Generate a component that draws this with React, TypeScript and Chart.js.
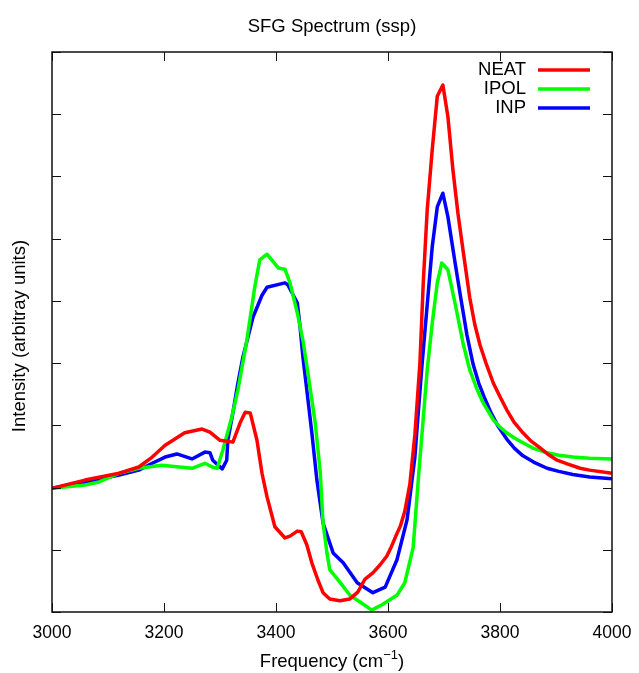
import React, { useEffect, useRef } from "react";
import { Chart, registerables } from "chart.js";

Chart.register(...registerables);

const chartTitle = "SFG Spectrum (ssp)";
const xAxisTitle = "Frequency (cm";
const xAxisSup = "\u22121";
const yAxisTitle = "Intensity (arbitray units)";
const xTicks = [3000, 3200, 3400, 3600, 3800, 4000];
const yTicks = [0, 1, 2, 3, 4, 5, 6, 7, 8, 9];
const seriesNames = ["NEAT", "IPOL", "INP"];
const seriesColors = ["#ff0000", "#00ff00", "#0000ff"];

const neatFreq = [3000, 3059, 3120, 3155, 3179, 3202, 3237, 3268, 3282, 3300, 3323, 3336, 3345, 3354, 3366, 3375, 3384, 3398, 3416, 3425, 3438, 3445, 3455, 3464, 3475, 3484, 3496, 3514, 3532, 3546, 3559, 3573, 3586, 3598, 3606, 3614, 3622, 3630, 3639, 3648, 3657, 3663, 3670, 3679, 3688, 3698, 3707, 3716, 3725, 3735, 3746, 3755, 3764, 3775, 3788, 3800, 3812, 3825, 3841, 3855, 3871, 3885, 3902, 3920, 3943, 3960, 4000];
const neatInt = [1.99, 2.12, 2.23, 2.33, 2.49, 2.68, 2.88, 2.94, 2.89, 2.76, 2.73, 3.04, 3.21, 3.2, 2.76, 2.23, 1.85, 1.37, 1.19, 1.22, 1.3, 1.29, 1.08, 0.79, 0.51, 0.31, 0.21, 0.18, 0.21, 0.32, 0.53, 0.63, 0.76, 0.9, 1.05, 1.22, 1.38, 1.62, 2.05, 2.85, 4.0, 5.3, 6.46, 7.43, 8.29, 8.47, 7.96, 7.1, 6.4, 5.75, 5.05, 4.62, 4.3, 4.0, 3.68, 3.46, 3.25, 3.05, 2.88, 2.75, 2.64, 2.54, 2.44, 2.38, 2.31, 2.28, 2.23];

const ipolFreq = [3000, 3059, 3084, 3120, 3155, 3196, 3227, 3250, 3273, 3286, 3295, 3305, 3321, 3332, 3348, 3362, 3371, 3384, 3404, 3416, 3425, 3438, 3448, 3457, 3470, 3479, 3484, 3491, 3496, 3514, 3532, 3550, 3571, 3590, 3616, 3630, 3645, 3654, 3670, 3679, 3688, 3696, 3707, 3720, 3734, 3746, 3758, 3770, 3788, 3800, 3812, 3825, 3841, 3860, 3884, 3905, 3930, 3960, 4000];
const ipolInt = [1.99, 2.04, 2.09, 2.23, 2.31, 2.36, 2.33, 2.31, 2.39, 2.33, 2.31, 2.6, 3.13, 3.57, 4.37, 5.22, 5.66, 5.75, 5.53, 5.51, 5.29, 4.81, 4.37, 3.84, 3.04, 2.25, 1.43, 0.95, 0.68, 0.48, 0.27, 0.16, 0.03, 0.12, 0.27, 0.47, 1.04, 2.12, 3.89, 4.64, 5.29, 5.61, 5.5, 4.95, 4.32, 3.89, 3.6, 3.36, 3.09, 2.97, 2.88, 2.8, 2.72, 2.63, 2.56, 2.52, 2.49, 2.47, 2.46];

const inpFreq = [3000, 3059, 3120, 3155, 3179, 3202, 3223, 3250, 3273, 3282, 3287, 3304, 3312, 3314, 3323, 3332, 3341, 3359, 3375, 3384, 3416, 3421, 3438, 3443, 3448, 3455, 3464, 3473, 3484, 3502, 3520, 3545, 3573, 3595, 3616, 3634, 3648, 3654, 3661, 3679, 3688, 3698, 3707, 3720, 3729, 3741, 3752, 3762, 3772, 3784, 3797, 3812, 3826, 3841, 3860, 3884, 3905, 3930, 3960, 4000];
const inpInt = [1.99, 2.09, 2.2, 2.28, 2.39, 2.49, 2.54, 2.46, 2.57, 2.56, 2.44, 2.3, 2.44, 2.76, 3.2, 3.68, 4.1, 4.74, 5.09, 5.22, 5.29, 5.26, 4.97, 4.58, 4.1, 3.57, 2.88, 2.12, 1.43, 0.95, 0.79, 0.47, 0.31, 0.4, 0.84, 1.48, 2.49, 3.2, 4.0, 5.87, 6.51, 6.73, 6.35, 5.6, 5.1, 4.45, 3.98, 3.68, 3.45, 3.2, 2.98, 2.78, 2.63, 2.51, 2.41, 2.31, 2.26, 2.21, 2.17, 2.14];

const FONT = "'Liberation Sans', Arial, sans-serif";

const toPoints = (xs: number[], ys: number[]) => xs.map((x, i) => ({ x, y: ys[i] }));

const framePlugin = {
  id: "gnuplotFrame",
  afterDraw(chart: any) {
    const ctx = chart.ctx as CanvasRenderingContext2D;
    const { left, right, top, bottom } = chart.chartArea;
    const xs = chart.scales.x;
    const ys = chart.scales.y;
    ctx.save();
    ctx.strokeStyle = "#111";
    ctx.lineWidth = 1.5;
    ctx.strokeRect(left, top, right - left, bottom - top);
    const tl = 9;
    ctx.lineWidth = 1;
    ctx.beginPath();
    xTicks.forEach((v) => {
      const px = Math.round(xs.getPixelForValue(v)) + 0.5;
      ctx.moveTo(px, bottom);
      ctx.lineTo(px, bottom - tl);
      ctx.moveTo(px, top);
      ctx.lineTo(px, top + tl);
    });
    yTicks.forEach((v) => {
      const py = Math.round(ys.getPixelForValue(v)) + 0.5;
      ctx.moveTo(left, py);
      ctx.lineTo(left + tl, py);
      ctx.moveTo(right, py);
      ctx.lineTo(right - tl, py);
    });
    ctx.stroke();

    ctx.fillStyle = "#000";
    ctx.font = `17.5px ${FONT}`;
    ctx.textAlign = "center";
    ctx.textBaseline = "middle";
    xTicks.forEach((v) => {
      ctx.fillText(String(v), xs.getPixelForValue(v), bottom + 21);
    });

    // title
    const cx = (left + right) / 2;
    ctx.font = `18.5px ${FONT}`;
    ctx.fillText(chartTitle, cx, 27);

    // x axis title with superscript
    ctx.textBaseline = "alphabetic";
    ctx.textAlign = "left";
    const mainW = ctx.measureText(xAxisTitle).width;
    ctx.font = `13px ${FONT}`;
    const supW = ctx.measureText(xAxisSup).width;
    ctx.font = `18.5px ${FONT}`;
    const closeW = ctx.measureText(")").width;
    const total = mainW + supW + closeW;
    let sx = cx - total / 2;
    const baseY = 667;
    ctx.fillText(xAxisTitle, sx, baseY);
    sx += mainW;
    ctx.font = `13px ${FONT}`;
    ctx.fillText(xAxisSup, sx, baseY - 8);
    sx += supW;
    ctx.font = `18.5px ${FONT}`;
    ctx.fillText(")", sx, baseY);

    // y axis title
    ctx.save();
    ctx.translate(20, (top + bottom) / 2 + 4);
    ctx.rotate(-Math.PI / 2);
    ctx.textAlign = "center";
    ctx.textBaseline = "middle";
    ctx.fillText(yAxisTitle, 0, 0);
    ctx.restore();

    // legend
    ctx.textAlign = "right";
    ctx.textBaseline = "middle";
    chart.data.datasets.forEach((ds: any, i: number) => {
      const ly = 70 + i * 19;
      ctx.fillStyle = "#000";
      ctx.fillText(ds.label, 526, ly);
      ctx.strokeStyle = ds.borderColor;
      ctx.lineWidth = 3.5;
      ctx.beginPath();
      ctx.moveTo(538, ly);
      ctx.lineTo(590, ly);
      ctx.stroke();
    });
    ctx.restore();
  },
};

export default function App() {
  const canvasRef = useRef<HTMLCanvasElement | null>(null);

  useEffect(() => {
    if (!canvasRef.current) return;
    const chart = new Chart(canvasRef.current, {
      type: "line",
      data: {
        datasets: [
          { label: seriesNames[0], data: toPoints(neatFreq, neatInt), borderColor: seriesColors[0] },
          { label: seriesNames[1], data: toPoints(ipolFreq, ipolInt), borderColor: seriesColors[1] },
          { label: seriesNames[2], data: toPoints(inpFreq, inpInt), borderColor: seriesColors[2] },
        ].map((d) => ({
          ...d,
          borderWidth: 3.5,
          pointRadius: 0,
          tension: 0,
          fill: false,
          borderJoinStyle: "round" as const,
        })),
      },
      options: {
        responsive: false,
        animation: false,
        layout: { padding: { left: 52, right: 27, top: 52, bottom: 61 } },
        plugins: { legend: { display: false }, title: { display: false }, tooltip: { enabled: false } },
        scales: {
          x: { type: "linear", min: 3000, max: 4000, display: false },
          y: { type: "linear", min: 0, max: 9, display: false },
        },
      },
      plugins: [framePlugin],
    });
    return () => chart.destroy();
  }, []);

  return (
    <div style={{ position: "fixed", left: 0, top: 0, width: 639, height: 673, background: "#fff" }}>
      <canvas ref={canvasRef} width={639} height={673} style={{ width: 639, height: 673 }} />
    </div>
  );
}
